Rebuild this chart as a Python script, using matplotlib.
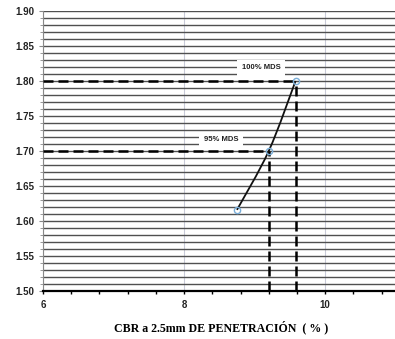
import matplotlib
matplotlib.use('Agg')
import matplotlib.pyplot as plt
from matplotlib.path import Path
from matplotlib.patches import PathPatch
from matplotlib.ticker import MultipleLocator

# Data
cbr = [8.75, 9.20, 9.58]
dens = [1.616, 1.70, 1.80]
ref_labels = ['95% MDS', '100% MDS']
ref_cbr = [9.20, 9.58]
ref_dens = [1.70, 1.80]
label_pos = [(8.52, 1.716), (9.09, 1.8186)]

fig = plt.figure(figsize=(3.95, 3.39), dpi=100)
ax = fig.add_axes([43 / 395, 1 - 291 / 339, 1 - 43 / 395, (291 - 11) / 339])

ax.set_xlim(6, 10.99)
ax.set_ylim(1.50, 1.90)

# grid: dense horizontal lines, light vertical lines
ax.yaxis.set_major_locator(MultipleLocator(0.05))
ax.yaxis.set_minor_locator(MultipleLocator(0.01))
ax.xaxis.set_major_locator(MultipleLocator(2))
ax.xaxis.set_minor_locator(MultipleLocator(0.4))
ax.grid(which='both', axis='y', color='#505050', lw=1.0)
ax.grid(which='major', axis='x', color='#c9cbd8', lw=0.8)
ax.set_axisbelow(True)

for s in ['top', 'right']:
    ax.spines[s].set_visible(False)
ax.spines['left'].set_color('#888888')
ax.spines['left'].set_linewidth(0.8)
ax.spines['bottom'].set_color('black')
ax.spines['bottom'].set_linewidth(1.6)

ax.tick_params(axis='y', which='major', length=3, color='#888888', labelsize=7,
               labelcolor='#222222', pad=3)
ax.tick_params(axis='y', which='minor', length=2, color='#888888')
ax.tick_params(axis='x', which='both', length=2.5, color='black', width=1,
               labelsize=7, labelcolor='#222222', pad=4)
ax.set_yticklabels([f'{v:.2f}' for v in ax.get_yticks()], fontfamily='Liberation Sans',
                   fontweight='bold')
ax.set_xticklabels([f'{v:.0f}' for v in ax.get_xticks()], fontfamily='Liberation Sans',
                   fontweight='bold')

# reference dashed lines
for x, y in zip(ref_cbr, ref_dens):
    ax.plot([6, x], [y, y], color='black', lw=1.8, ls=(0, (4, 2)), zorder=3)
    ax.plot([x, x], [1.50, y], color='black', lw=1.8, ls=(0, (4, 2)), zorder=3)

# smoothed curve (Excel-style bezier through the points)
pts = list(zip(cbr, dens))
verts = [pts[0]]
codes = [Path.MOVETO]
n = len(pts)
for i in range(n - 1):
    p0 = pts[i - 1] if i > 0 else pts[i]
    p1 = pts[i]
    p2 = pts[i + 1]
    p3 = pts[i + 2] if i + 2 < n else pts[i + 1]
    c1 = (p1[0] + (p2[0] - p0[0]) / 6, p1[1] + (p2[1] - p0[1]) / 6)
    c2 = (p2[0] - (p3[0] - p1[0]) / 6, p2[1] - (p3[1] - p1[1]) / 6)
    verts += [c1, c2, p2]
    codes += [Path.CURVE4] * 3
ax.add_patch(PathPatch(Path(verts, codes), fill=False, edgecolor='#111111', lw=1.3, zorder=4))

ax.plot(cbr, dens, ls='none', marker='o', ms=4.5, mfc='none', mec='#7aaed8', mew=1, zorder=5)

for lab, (x, y) in zip(ref_labels, label_pos):
    ax.text(x, y, lab, ha='center', va='center', fontsize=5.5, fontweight='bold',
            fontfamily='Liberation Sans', color='#222222', zorder=6,
            bbox=dict(boxstyle='square,pad=0.6', fc='white', ec='none'))

fig.text(221 / 395, 1 - 327 / 339, 'CBR a 2.5mm DE PENETRACIÓN  ( % )', ha='center',
         va='center', fontsize=8.6, fontweight='bold', fontfamily='Liberation Serif')

fig.savefig('out.png', dpi=100)
